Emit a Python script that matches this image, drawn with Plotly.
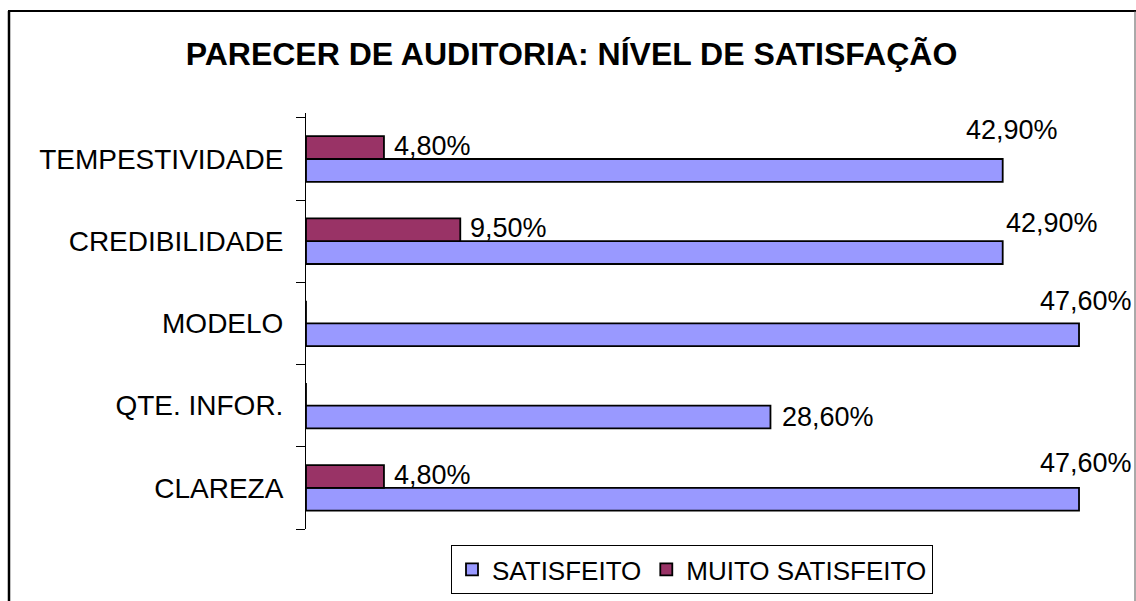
import plotly.graph_objects as go

categories = ["CLAREZA", "QTE. INFOR.", "MODELO", "CREDIBILIDADE", "TEMPESTIVIDADE"]
satisfeito = [47.6, 28.6, 47.6, 42.9, 42.9]
muito_satisfeito = [4.8, 0.0, 0.0, 9.5, 4.8]
series_names = ["SATISFEITO", "MUITO SATISFEITO"]
title_text = "PARECER DE AUDITORIA: NÍVEL DE SATISFAÇÃO"

# label placement tweaks (pixels): (xanchor, xshift, yshift)
sat_label_style = [("center", 7, 25), ("left", 10, -11.5), ("center", 7, 22.5), ("left", 1, 18.5), ("center", 9, 29)]
muito_label_style = [("left", 8, 13), None, None, ("left", 8, 13), ("left", 8, 13)]

FONT = "Liberation Sans, Arial, sans-serif"
C_SAT = "#9999FF"
C_MUITO = "#993366"


def fmt(v):
    return f"{v:.2f}".replace(".", ",") + "%"


fig = go.Figure()
fig.add_trace(go.Bar(
    y=categories, x=satisfeito, orientation="h", name=series_names[0],
    marker=dict(color=C_SAT, line=dict(color="black", width=1.8)),
))
fig.add_trace(go.Bar(
    y=categories, x=muito_satisfeito, orientation="h", name=series_names[1],
    marker=dict(color=C_MUITO, line=dict(color="black", width=1.8)),
))

annotations = []
for cat, v, st in zip(categories, satisfeito, sat_label_style):
    if v > 0 and st:
        annotations.append(dict(x=v, y=cat, xref="x", yref="y", text=fmt(v), showarrow=False,
                                xanchor=st[0], xshift=st[1], yshift=st[2], yanchor="middle",
                                font=dict(family=FONT, size=27, color="black")))
for cat, v, st in zip(categories, muito_satisfeito, muito_label_style):
    if v > 0 and st:
        annotations.append(dict(x=v, y=cat, xref="x", yref="y", text=fmt(v), showarrow=False,
                                xanchor=st[0], xshift=st[1], yshift=st[2], yanchor="middle",
                                font=dict(family=FONT, size=27, color="black")))

L, R, T, B = 306, 18, 113, 72
W, H = 1136, 601
pw, ph = W - L - R, H - T - B


def px_x(px):
    return (px - L) / pw


def px_y(py):
    return (H - B - py) / ph


shapes = [
    dict(type="line", xref="paper", yref="paper", x0=px_x(9), x1=px_x(9), y0=px_y(11), y1=px_y(620),
         line=dict(color="black", width=2.5)),
    dict(type="line", xref="paper", yref="paper", x0=px_x(8), x1=px_x(1136), y0=px_y(11), y1=px_y(11),
         line=dict(color="black", width=2)),
    dict(type="line", xref="paper", yref="paper", x0=px_x(1135), x1=px_x(1135), y0=px_y(11), y1=px_y(620),
         line=dict(color="#555555", width=1)),
]

fig.update_layout(
    width=W, height=H,
    margin=dict(l=L, r=R, t=T, b=B, pad=0, autoexpand=False),
    paper_bgcolor="white", plot_bgcolor="white",
    barmode="group", bargap=0.446, bargroupgap=0,
    title=dict(text=f"<b>{title_text}</b>", xref="container", yref="container",
               x=571.5 / W, y=1 - 54 / H, xanchor="center", yanchor="middle",
               font=dict(family=FONT, size=32, color="black")),
    xaxis=dict(range=[0, 50], visible=False, fixedrange=True),
    yaxis=dict(categoryorder="array", categoryarray=categories, showline=True, linecolor="black",
               linewidth=1, ticks="outside", ticklen=9, tickcolor="black", tickwidth=1,
               tickson="boundaries", showgrid=False, zeroline=False, ticklabelstandoff=16,
               tickfont=dict(family=FONT, size=28, color="black"), fixedrange=True),
    legend=dict(orientation="h", xref="container", yref="container",
                x=692 / W, y=1 - 545 / H, xanchor="center", yanchor="top",
                traceorder="normal", bordercolor="black", borderwidth=1, bgcolor="white",
                font=dict(family=FONT, size=26, color="black"), itemwidth=30),
    annotations=annotations,
    shapes=shapes,
    showlegend=True,
)

fig.write_html("out.html", config={"displayModeBar": False},
               post_script="document.body.style.margin='0px';document.body.style.overflow='hidden';")
